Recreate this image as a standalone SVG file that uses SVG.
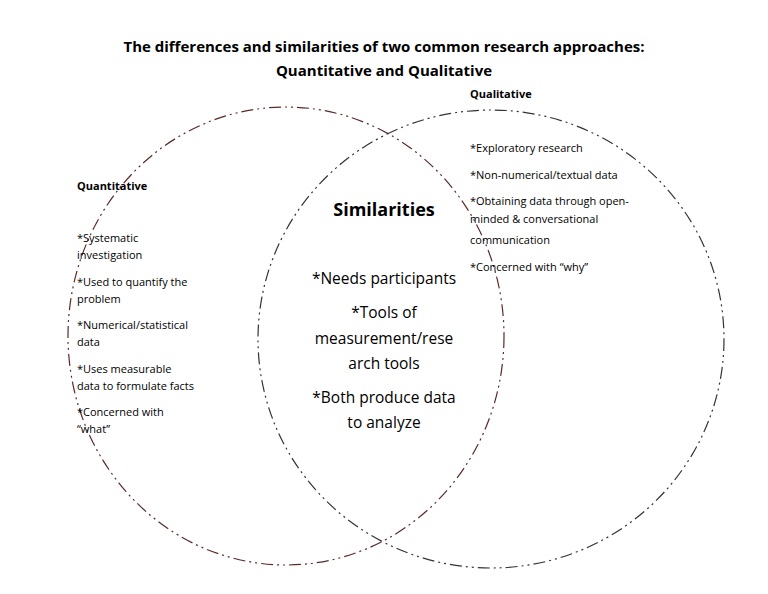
<svg xmlns="http://www.w3.org/2000/svg" width="768" height="594" viewBox="0 0 768 594">
<style>
text{font-family:"Open Sans","Liberation Sans",sans-serif;fill:#000}
.t{font-size:15px;font-weight:bold}
.h{font-size:11px;font-weight:bold}
.s{font-size:11px}
.m{font-size:15.5px}
.c{fill:none;stroke-width:1.2;stroke-dasharray:12 4 2 4 2 4}
</style>
<rect width="768" height="594" fill="#fff"/>
<g id="title"><text class="t" x="384" y="52" text-anchor="middle">The differences and similarities of two common research approaches:</text>
<text class="t" x="384" y="76" text-anchor="middle">Quantitative and Qualitative</text></g>
<g id="connectors"></g>
<g id="quantitative"><ellipse class="c" stroke="#5a2a2a" cx="286" cy="336" rx="218" ry="229"/>
<text class="h" x="77" y="190">Quantitative</text>
<text class="s" x="77" y="242">*Systematic</text><text class="s" x="77" y="259">investigation</text>
<text class="s" x="77" y="286">*Used to quantify the</text><text class="s" x="77" y="303">problem</text>
<text class="s" x="77" y="329">*Numerical/statistical</text><text class="s" x="77" y="346">data</text>
<text class="s" x="77" y="373">*Uses measurable</text><text class="s" x="77" y="390">data to formulate facts</text>
<text class="s" x="77" y="416">*Concerned with</text><text class="s" x="77" y="433">“what”</text></g>
<g id="qualitative"><ellipse class="c" stroke="#333" cx="491" cy="339" rx="233" ry="229"/>
<text class="h" x="470" y="98">Qualitative</text>
<text class="s" x="470" y="152">*Exploratory research</text>
<text class="s" x="470" y="179">*Non-numerical/textual data</text>
<text class="s" x="470" y="205">*Obtaining data through open-</text>
<text class="s" x="470" y="223">minded &amp; conversational</text>
<text class="s" x="470" y="244">communication</text>
<text class="s" x="470" y="271">*Concerned with “why”</text></g>
<g id="similarities">
<text x="384" y="216" text-anchor="middle" style="font-size:18px;font-weight:bold">Similarities</text>
<text class="m" x="384" y="284" text-anchor="middle">*Needs participants</text>
<text class="m" x="384" y="318" text-anchor="middle">*Tools of</text>
<text class="m" x="384" y="344" text-anchor="middle">measurement/rese</text>
<text class="m" x="384" y="369" text-anchor="middle">arch tools</text>
<text class="m" x="384" y="403" text-anchor="middle">*Both produce data</text>
<text class="m" x="384" y="428" text-anchor="middle">to analyze</text></g>
</svg>
